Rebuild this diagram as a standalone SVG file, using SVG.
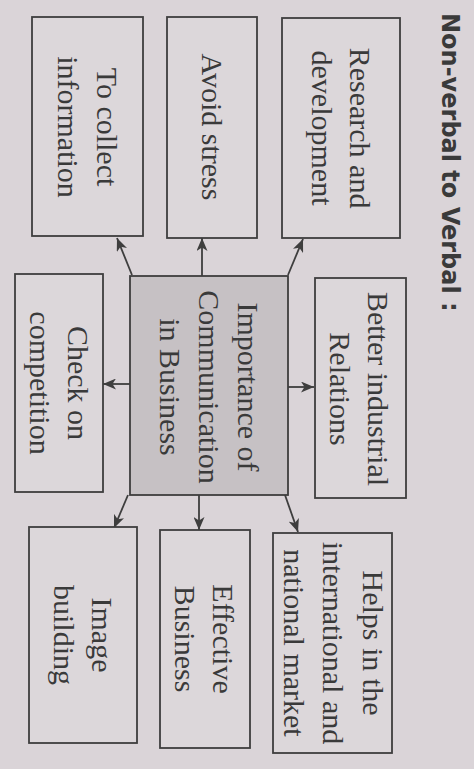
<svg xmlns="http://www.w3.org/2000/svg" width="474" height="769" viewBox="0 0 474 769">
  <defs>
    <style>
      .bg { fill: #dad4d8; }
      .box { fill: #dcd7da; stroke: #3e3e3e; stroke-width: 1.8; }
      .center { fill: #c6c1c4; stroke: #3e3e3e; stroke-width: 1.8; }
      .t { font-family: "Liberation Serif", "Times New Roman", serif; font-size: 30px; fill: #3a3a3a; text-anchor: middle; }
      .title { font-family: "DejaVu Sans", "Liberation Sans", sans-serif; font-weight: bold; font-size: 24px; fill: #3a3a3a; }
      .conn { stroke: #3e3e3e; stroke-width: 1.8; fill: none; marker-end: url(#arrow); }
    </style>
    <marker id="arrow" markerUnits="userSpaceOnUse" markerWidth="14" markerHeight="11" refX="13" refY="5.5" orient="auto" viewBox="0 0 14 11">
      <path d="M0,0 L13,5.5 L0,11 L3.5,5.5 z" fill="#3e3e3e"/>
    </marker>
  </defs>
  <rect class="bg" x="0" y="0" width="474" height="769"/>

  <g id="title">
    <text class="title" transform="translate(442,13) rotate(90)">Non-verbal to Verbal :</text>
  </g>

  <g id="connectors">
    <line class="conn" x1="132" y1="275" x2="117" y2="238"/>
    <line class="conn" x1="202" y1="276" x2="202" y2="238"/>
    <line class="conn" x1="288" y1="275" x2="303" y2="239"/>
    <line class="conn" x1="130" y1="384" x2="103" y2="384"/>
    <line class="conn" x1="288" y1="387" x2="314" y2="387"/>
    <line class="conn" x1="128" y1="495" x2="114" y2="528"/>
    <line class="conn" x1="199" y1="495" x2="199" y2="530"/>
    <line class="conn" x1="285" y1="495" x2="298" y2="532"/>
  </g>

  <g id="node-research">
    <rect class="box" x="282" y="18" width="118" height="220"/>
    <text class="t" transform="translate(350,128) rotate(90)">Research and</text>
    <text class="t" transform="translate(312,128) rotate(90)">development</text>
  </g>

  <g id="node-avoid">
    <rect class="box" x="167" y="17" width="90" height="221"/>
    <text class="t" transform="translate(202,127) rotate(90)">Avoid stress</text>
  </g>

  <g id="node-collect">
    <rect class="box" x="32" y="17" width="111" height="219"/>
    <text class="t" transform="translate(97,127) rotate(90)">To collect</text>
    <text class="t" transform="translate(58,127) rotate(90)">information</text>
  </g>

  <g id="node-center">
    <rect class="center" x="130" y="276" width="158" height="219"/>
    <text class="t" transform="translate(238,387) rotate(90)">Importance of</text>
    <text class="t" transform="translate(199,387) rotate(90)">Communication</text>
    <text class="t" transform="translate(160,387) rotate(90)">in Business</text>
  </g>

  <g id="node-industrial">
    <rect class="box" x="315" y="278" width="91" height="220"/>
    <text class="t" transform="translate(368,389) rotate(90)">Better industrial</text>
    <text class="t" transform="translate(330,389) rotate(90)">Relations</text>
  </g>

  <g id="node-competition">
    <rect class="box" x="15" y="274" width="88" height="218"/>
    <text class="t" transform="translate(68,383) rotate(90)">Check on</text>
    <text class="t" transform="translate(30,383) rotate(90)">competition</text>
  </g>

  <g id="node-image">
    <rect class="box" x="29" y="527" width="108" height="216"/>
    <text class="t" transform="translate(92,635) rotate(90)">Image</text>
    <text class="t" transform="translate(54,635) rotate(90)">building</text>
  </g>

  <g id="node-effective">
    <rect class="box" x="160" y="530" width="90" height="218"/>
    <text class="t" transform="translate(213,639) rotate(90)">Effective</text>
    <text class="t" transform="translate(175,639) rotate(90)">Business</text>
  </g>

  <g id="node-market">
    <rect class="box" x="273" y="533" width="119" height="220"/>
    <text class="t" transform="translate(363,643) rotate(90)">Helps in the</text>
    <text class="t" transform="translate(323,643) rotate(90)">international and</text>
    <text class="t" transform="translate(284,643) rotate(90)">national market</text>
  </g>
</svg>
